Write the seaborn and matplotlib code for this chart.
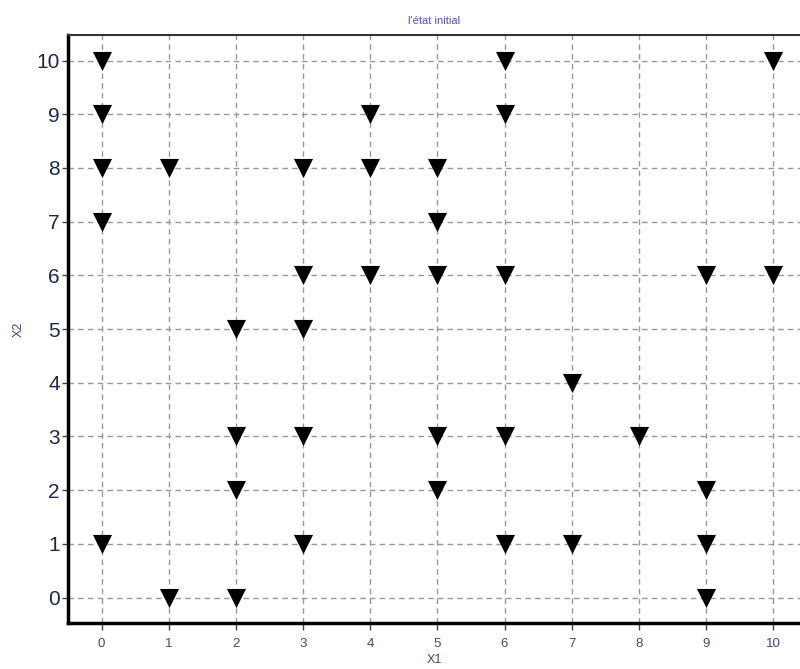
import matplotlib
matplotlib.use("Agg")
import matplotlib.pyplot as plt
import seaborn as sns
import pandas as pd

x1 = [0, 0, 0, 0, 0, 1, 1, 2, 2, 2, 2, 3, 3, 3, 3, 3, 4, 4, 4,
      5, 5, 5, 5, 5, 6, 6, 6, 6, 6, 7, 7, 8, 9, 9, 9, 9, 10, 10]
x2 = [10, 9, 8, 7, 1, 8, 0, 5, 3, 2, 0, 8, 6, 5, 3, 1, 9, 8, 6,
      8, 7, 6, 3, 2, 10, 9, 6, 3, 1, 4, 1, 3, 6, 2, 1, 0, 10, 6]
ticks = list(range(0, 11))

df = pd.DataFrame({"X1": x1, "X2": x2})

sns.set_style("white")
plt.rcParams['font.family'] = ['Liberation Sans', 'DejaVu Sans']

fig = plt.figure(figsize=(8, 6.69), dpi=100)
ax = fig.add_axes([0.085, 0.069, 0.915, 0.879])

sns.scatterplot(data=df, x="X1", y="X2", marker="v", color="black",
                s=190, edgecolor="black", linewidth=0, ax=ax, zorder=3)

ax.set_xlim(-0.5, 10.4)
ax.set_ylim(-0.47, 10.48)
ax.set_xticks(ticks)
ax.set_yticks(ticks)
ax.grid(True, color="#999999", linestyle=(0, (4, 3)), linewidth=1)
ax.set_axisbelow(True)

ax.tick_params(axis="y", labelsize=15, labelcolor="#1c2850", length=4,
               width=1, color="#444444", direction="out", left=True, pad=2)
ax.tick_params(axis="x", labelsize=9.5, labelcolor="#5a3c78", length=5,
               width=1, color="#444444", direction="out", bottom=True, pad=6)

for side in ["left", "bottom"]:
    ax.spines[side].set_linewidth(2.5)
    ax.spines[side].set_color("black")
ax.spines["top"].set_linewidth(1.5)
ax.spines["top"].set_color("#333333")
ax.spines["right"].set_visible(False)

ax.set_xlabel("X1", fontsize=9, color="#5a3c88", labelpad=3)
ax.set_ylabel("X2", fontsize=9, color="#5a3c78", labelpad=8)
ax.set_title("l'état initial", fontsize=8, color="#4a55c8", pad=8)

fig.savefig("out.png", dpi=100)
